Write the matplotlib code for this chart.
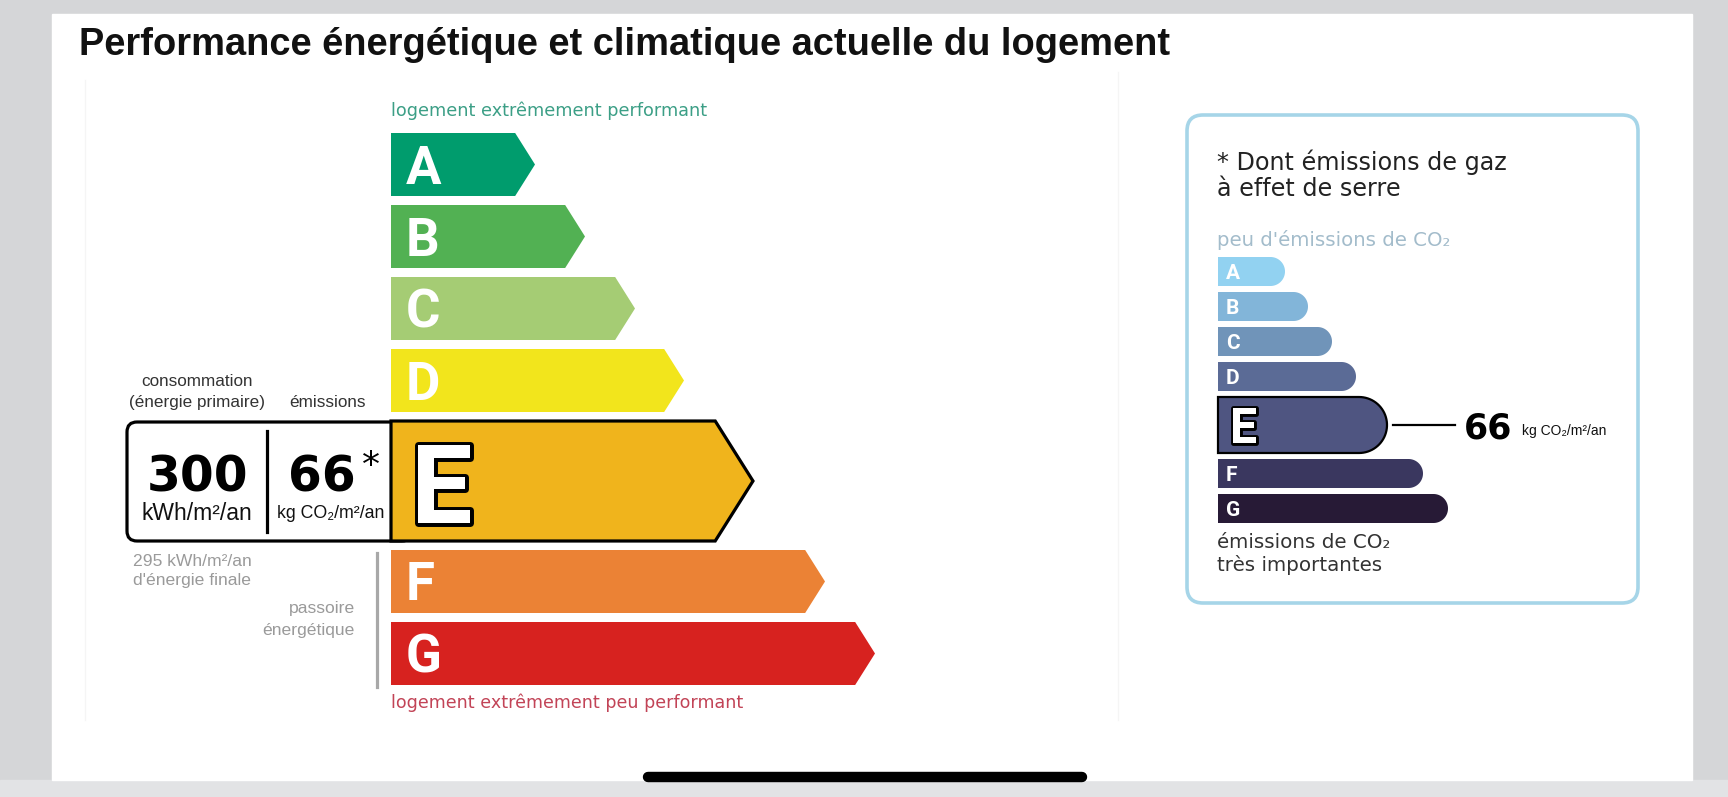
import numpy as np
import matplotlib
matplotlib.use("Agg")
import matplotlib.pyplot as plt
from matplotlib.patches import Polygon, FancyBboxPatch, Rectangle
import matplotlib.patheffects as pe

W, H = 1728, 797

# ---- data ----
classes = ['A', 'B', 'C', 'D', 'E', 'F', 'G']
current_class = 'E'
energy_colors = ['#009c6d', '#52b153', '#a5cc74', '#f2e51c', '#f0b41c', '#eb8235', '#d7221f']
energy_lengths = [144, 194, 244, 293, 362, 434, 484]
co2_colors = ['#92d2f1', '#82b5d9', '#7094b9', '#5b6b96', '#4f5581', '#3a375f', '#271a36']
co2_lengths = [67, 90, 114, 138, 169, 205, 230]
conso_primary = 300
emissions = 66
conso_final = 295

title = "Performance énergétique et climatique actuelle du logement"

SANS = ['Liberation Sans', 'DejaVu Sans']
VERD = ['DejaVu Sans']
LETTER = ['Roboto', 'DejaVu Sans']

fig = plt.figure(figsize=(W / 100, H / 100), dpi=100, facecolor='#d5d6d8')
ax = fig.add_axes([0, 0, 1, 1])
ax.set_xlim(0, W)
ax.set_ylim(H, 0)
ax.axis('off')

# screenshot frame
ax.add_patch(Rectangle((0, 780), W, H - 780, color='#e2e3e5', zorder=0))
ax.add_patch(Rectangle((52, 14), 1640, 766, color='white', zorder=1))
ax.plot([85, 85], [80, 720], color='#f5f5f5', lw=1, zorder=1)
ax.plot([1118, 1118], [72, 720], color='#f5f5f5', lw=1, zorder=1)
ax.plot([648, 1082], [777, 777], color='black', lw=7.5, solid_capstyle='round', zorder=10)

ax.text(79, 45, title, fontsize=27.4, fontweight='bold', family=SANS,
        color='#111111', va='center', ha='left', zorder=5)


def arrow(x0, y0, length, h, color, edge=None):
    d = 0.63 * h / 2
    pts = [(x0, y0), (x0 + length - d, y0), (x0 + length, y0 + h / 2),
           (x0 + length - d, y0 + h), (x0, y0 + h)]
    ax.add_patch(Polygon(pts, closed=True, facecolor=color,
                         edgecolor=edge if edge else 'none',
                         lw=2.3 if edge else 0, joinstyle='miter', zorder=4))


def pill(x0, y0, length, h, color, edge=None):
    r = h / 2
    t = np.linspace(-np.pi / 2, np.pi / 2, 40)
    arc = [(x0 + length - r + r * np.cos(a), y0 + r + r * np.sin(a)) for a in t]
    pts = [(x0, y0)] + arc + [(x0, y0 + h)]
    ax.add_patch(Polygon(pts, closed=True, facecolor=color,
                         edgecolor=edge if edge else 'none',
                         lw=1.6 if edge else 0, zorder=4))


# ---- energy scale (left) ----
x0 = 391
ax.text(x0, 111, "logement extrêmement performant", fontsize=12.7, family=VERD,
        color='#3c9f86', va='center', ha='left')

y = 133
for cls, col, ln in zip(classes, energy_colors, energy_lengths):
    cur = cls == current_class
    h = 120 if cur else 63
    if cur:
        # info box for current class
        ax.add_patch(FancyBboxPatch((127, y + 1), 285, h - 1,
                                    boxstyle='round,pad=0,rounding_size=10',
                                    facecolor='white', edgecolor='black', lw=2.3, zorder=3))
        arrow(x0, y, ln, h, col, edge='black')
        ax.text(x0 + 20, y + h / 2 + 42, cls, fontsize=79, fontweight='bold', family=LETTER,
                color='white', ha='left', va='baseline', zorder=6,
                path_effects=[pe.Stroke(linewidth=5, foreground='black'), pe.Normal()])
        ax.plot([267, 267], [y + 10, y + 111], color='black', lw=2.3, zorder=5)
        ax.text(198, y + 70, str(conso_primary), fontsize=35, fontweight='bold', family=VERD,
                ha='center', va='baseline', color='black', zorder=5)
        ax.text(322, y + 70, str(emissions), fontsize=35, fontweight='bold', family=VERD,
                ha='center', va='baseline', color='black', zorder=5)
        ax.text(371, y + 28, "*", fontsize=26, family=VERD, ha='center', va='top',
                color='black', zorder=5)
        ax.text(197, y + 92, "kWh/m²/an", fontsize=16.5, family=SANS, ha='center',
                va='center', color='#111111', zorder=5)
        ax.text(331, y + 92, "kg CO₂/m²/an", fontsize=12.8, family=SANS, ha='center',
                va='center', color='#111111', zorder=5)
        ax.text(197, y - 40, "consommation", fontsize=12.3, family=SANS, ha='center',
                va='center', color='#333333')
        ax.text(197, y - 19, "(énergie primaire)", fontsize=12.3, family=SANS, ha='center',
                va='center', color='#333333')
        ax.text(328, y - 19, "émissions", fontsize=12.3, family=SANS, ha='center',
                va='center', color='#333333')
        ax.text(192, y + 141, f"{conso_final} kWh/m²/an", fontsize=12.6, family=SANS,
                ha='center', va='center', color='#9a9a9a')
        ax.text(192, y + 160, "d'énergie finale", fontsize=12.6, family=SANS,
                ha='center', va='center', color='#9a9a9a')
    else:
        arrow(x0, y, ln, h, col)
        ax.text(x0 + 15, y + h / 2 + 19, cls, fontsize=38, fontweight='bold', family=LETTER,
                color='white', ha='left', va='baseline', zorder=6)
    y += h + 9

# passoire energetique marker (F and G)
ax.plot([377, 377], [553, 687], color='#a8a8a8', lw=2.3, zorder=3)
ax.text(355, 608, "passoire", fontsize=12.6, family=SANS, ha='right', va='center', color='#9a9a9a')
ax.text(355, 630, "énergétique", fontsize=12.6, family=SANS, ha='right', va='center', color='#9a9a9a')

ax.text(x0, 703, "logement extrêmement peu performant", fontsize=12.6, family=VERD,
        color='#c24457', va='center', ha='left')

# ---- greenhouse gas panel (right) ----
ax.add_patch(FancyBboxPatch((1187, 115), 451, 488, boxstyle='round,pad=0,rounding_size=16',
                            facecolor='white', edgecolor='#a6d5e8', lw=2.6, zorder=2))
ax.text(1217, 162, "* Dont émissions de gaz", fontsize=17.2, family=VERD, color='#222222',
        va='center', ha='left')
ax.text(1217, 189, "à effet de serre", fontsize=17.2, family=VERD, color='#222222',
        va='center', ha='left')
ax.text(1217, 240, "peu d'émissions de CO₂", fontsize=14.2, family=VERD, color='#a3bccb',
        va='center', ha='left')

xr = 1218
y = 257
for cls, col, ln in zip(classes, co2_colors, co2_lengths):
    cur = cls == current_class
    h = 56 if cur else 29
    if cur:
        pill(xr, y, ln, h, col, edge='black')
        ax.text(xr + 12, y + h / 2 + 18, cls, fontsize=35, fontweight='bold', family=LETTER,
                color='white', ha='left', va='baseline', zorder=6,
                path_effects=[pe.Stroke(linewidth=3.5, foreground='black'), pe.Normal()])
        ym = y + h / 2
        ax.plot([xr + ln + 6, xr + ln + 68], [ym, ym], color='black', lw=1.6, zorder=5)
        ax.text(xr + ln + 77, ym + 13, str(emissions), fontsize=25, fontweight='bold',
                family=VERD, ha='left', va='baseline', color='black', zorder=5)
        ax.text(xr + ln + 135, ym + 10, "kg CO₂/m²/an", fontsize=10, family=SANS,
                ha='left', va='baseline', color='#111111', zorder=5)
    else:
        pill(xr, y, ln, h, col)
        ax.text(xr + 8, y + h / 2 + 7.5, cls, fontsize=15, fontweight='bold', family=LETTER,
                color='white', ha='left', va='baseline', zorder=6)
    y += h + 6

ax.text(1217, 542, "émissions de CO₂", fontsize=14.3, family=VERD, color='#333333',
        va='center', ha='left')
ax.text(1217, 565, "très importantes", fontsize=14.3, family=VERD, color='#333333',
        va='center', ha='left')

fig.savefig("out.png", dpi=100, facecolor=fig.get_facecolor())
